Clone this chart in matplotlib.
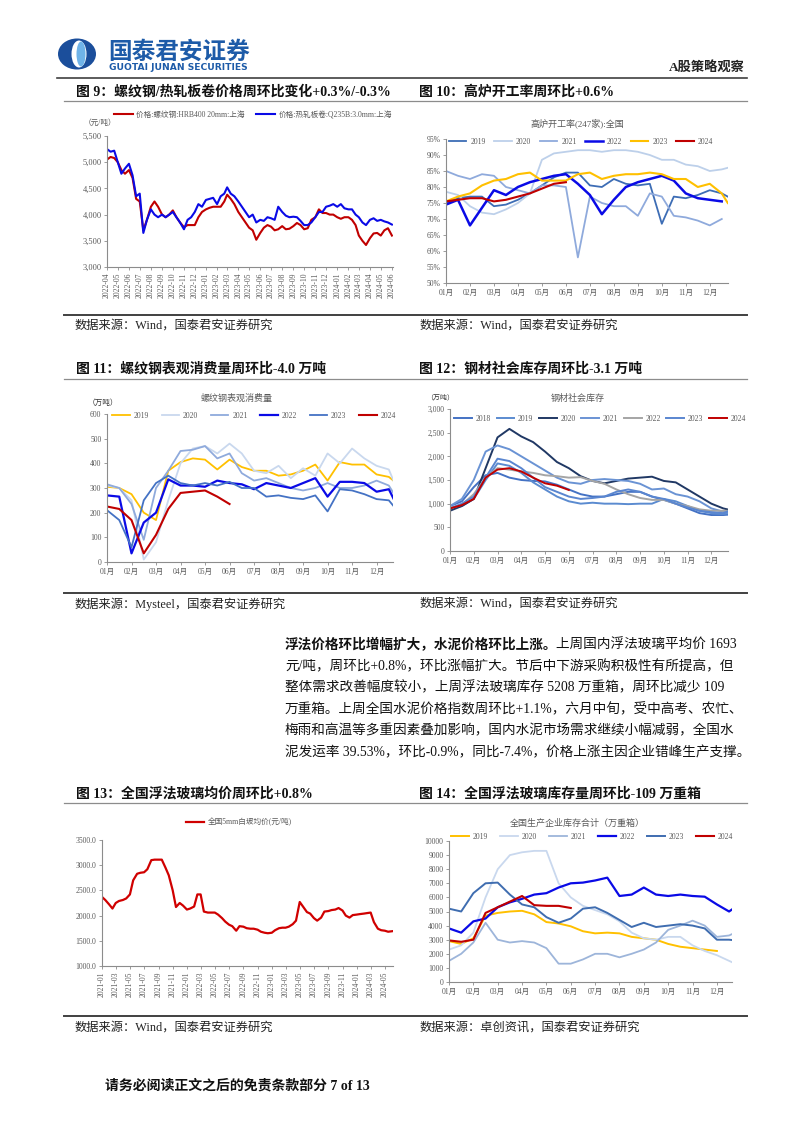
import numpy as np
import pandas as pd
import matplotlib
matplotlib.use('Agg')
import matplotlib.pyplot as plt
from matplotlib.lines import Line2D
from matplotlib.patches import Ellipse
from matplotlib.ticker import FuncFormatter, FixedLocator

# ---------------- data ----------------
# Fig 9: rebar / hot-rolled coil price (yuan/t), points on the 1st, 11th, 21st of each month
rebar_price = [5050, 5100, 5080, 5000, 4850, 4780, 4850, 4700, 4300, 4250, 3700, 3900,
               4150, 4250, 4150, 4000, 3950, 4000, 4080, 3950, 3850, 3760, 3800, 3800,
               3800, 3950, 4050, 4100, 4130, 4150, 4150, 4150, 4250, 4380, 4300, 4200,
               4050, 3950, 3850, 3750, 3700, 3520, 3650, 3750, 3800, 3770, 3700, 3720,
               3780, 3720, 3730, 3780, 3840, 3800, 3720, 3740, 3900, 3950, 4100, 4030,
               4030, 4000, 4000, 3950, 3920, 3950, 3950, 3900, 3800, 3600, 3500, 3420,
               3550, 3640, 3650, 3600, 3700, 3740, 3600]
hrc_price = [5250, 5200, 5220, 5000, 4780, 4880, 4970, 4750, 4350, 4400, 3650, 3900,
             4100, 4000, 3950, 4000, 3950, 4000, 4050, 3950, 3850, 3720, 3900, 3950,
             4050, 4200, 4150, 4280, 4300, 4320, 4200, 4350, 4400, 4520, 4400, 4350,
             4250, 4150, 4050, 3950, 4000, 3850, 3900, 3880, 3950, 3930, 3900, 4150,
             4050, 3980, 3950, 3960, 3950, 3880, 3800, 3800, 3850, 3950, 4050, 4050,
             4150, 4170, 4200, 4150, 4200, 4120, 4100, 4100, 4000, 3950, 3850, 3800,
             3900, 3930, 3880, 3900, 3870, 3850, 3810]
price_labels = ['价格:螺纹钢:HRB400 20mm:上海', '价格:热轧板卷:Q235B:3.0mm:上海']

# Fig 10: blast furnace utilization (%), half-month points
bf_years = ['2019', '2020', '2021', '2022', '2023', '2024']
bf_2019 = [75, 76.5, 77, 77, 74, 74.5, 76, 78, 80.5, 83, 84.5, 84.5, 80.5, 80, 82.5, 81,
           80.5, 81, 68.5, 77, 76.5, 77.5, 79, 78, 77]
bf_2020 = [78.5, 77.5, 74, 72, 71.5, 73, 75, 78, 88.5, 90.5, 91, 91.5, 91.5, 91, 91.5, 91.5,
           91, 90, 88.5, 88.5, 87, 86.5, 85, 85.5, 86]
bf_2021 = [85, 83.5, 82.5, 84, 83.5, 80, 79, 78, 80.5, 80.5, 80, 58, 77, 75, 74, 74,
           71, 78, 77, 71, 70.5, 69.5, 68, 70]
bf_2022 = [74.5, 76, 68, 73.5, 79, 77.5, 80, 81.5, 82.5, 83.5, 84, 81, 77.5, 71.5, 76, 80,
           81.5, 82.5, 83.5, 82, 78, 76.5, 76, 75.5]
bf_2023 = [75.5, 77, 78, 80.5, 82, 82.5, 84, 84.5, 82, 82, 82, 84, 84.5, 82.5, 83.5, 84,
           84, 84.5, 84, 82.5, 82.5, 80, 81, 78, 75]
bf_2024 = [75.5, 76, 76.5, 76.5, 75.5, 76, 77, 78, 79.5, 81, 81.5]

# Fig 11: rebar apparent consumption (10k t), half-month points
rc_years = ['2019', '2020', '2021', '2022', '2023', '2024']
rc_2019 = [305, 300, 275, 200, 170, 370, 405, 420, 415, 375, 415, 385, 370, 370, 350, 355,
           370, 395, 330, 405, 395, 395, 355, 345, 325]
rc_2020 = [310, 300, 250, 10, 80, 250, 400, 460, 470, 440, 480, 440, 370, 360, 390, 340,
           380, 350, 440, 400, 460, 420, 390, 375, 315]
rc_2021 = [315, 300, 235, 90, 300, 370, 450, 455, 470, 420, 440, 360, 330, 340, 320, 300,
           290, 300, 320, 300, 300, 310, 330, 310, 270]
rc_2022 = [270, 265, 35, 160, 200, 335, 310, 310, 305, 330, 320, 315, 295, 320, 310, 300,
           320, 340, 265, 325, 325, 320, 285, 295, 245]
rc_2023 = [210, 170, 60, 250, 320, 350, 320, 310, 320, 310, 325, 300, 300, 265, 270, 260,
           255, 270, 205, 295, 290, 275, 255, 250, 220]
rc_2024 = [225, 215, 170, 35, 110, 215, 280, 285, 290, 265, 235]

# Fig 12: steel social inventory (10k t), half-month points
si_years = ['2018', '2019', '2020', '2021', '2022', '2023', '2024']
si_2018 = [950, 1050, 1350, 1600, 1650, 1550, 1500, 1480, 1470, 1400, 1300, 1200, 1150, 1150,
           1200, 1250, 1250, 1150, 1080, 1000, 900, 800, 760, 760, 770]
si_2019 = [900, 950, 1100, 1500, 1850, 1800, 1650, 1450, 1300, 1150, 1050, 1000, 1020, 1000,
           1000, 990, 1000, 1000, 1100, 1050, 950, 850, 800, 780, 800]
si_2020 = [850, 950, 1100, 1750, 2400, 2580, 2420, 2300, 2100, 1880, 1750, 1580, 1480, 1430,
           1480, 1530, 1550, 1570, 1480, 1450, 1300, 1150, 1000, 900, 870]
si_2021 = [950, 1100, 1500, 2100, 2230, 2150, 2000, 1850, 1700, 1550, 1450, 1420, 1500, 1520,
           1500, 1480, 1420, 1300, 1320, 1200, 1150, 1050, 900, 830, 800]
si_2022 = [900, 980, 1200, 1550, 1750, 1720, 1680, 1650, 1600, 1580, 1550, 1560, 1480, 1420,
           1300, 1200, 1120, 1080, 1080, 1000, 950, 880, 850, 850, 850]
si_2023 = [900, 1000, 1150, 1550, 1950, 1900, 1750, 1550, 1350, 1250, 1150, 1100, 1120, 1150,
           1250, 1300, 1250, 1150, 1100, 1000, 920, 850, 820, 800, 850]
si_2024 = [900, 970, 1100, 1550, 1720, 1750, 1680, 1550, 1430, 1380, 1290]

# Fig 13: float glass average price (yuan/t), semi-monthly from 2021-01
glass_price = [2370, 2310, 2220, 2140, 2250, 2290, 2310, 2340, 2420, 2700, 2830, 2850,
               2860, 2920, 3100, 3110, 3110, 3110, 2950, 2800, 2500, 2170, 2250, 2200,
               2120, 2140, 2180, 2420, 2420, 2080, 2060, 2060, 2060, 2020, 1950, 1880,
               1820, 1790, 1700, 1790, 1780, 1750, 1740, 1740, 1720, 1680, 1660, 1650,
               1660, 1710, 1750, 1760, 1760, 1780, 1830, 1900, 2270, 2180, 2070, 2040,
               1950, 1900, 1960, 2080, 2090, 2110, 2120, 2150, 2100, 2000, 1960, 2010,
               2020, 2030, 2040, 2050, 2060, 1870, 1740, 1710, 1700, 1680, 1690]
glass_label = '全国5mm白玻均价(元/吨)'

# Fig 14: float glass inventory (10k weight boxes), half-month points
gi_years = ['2019', '2020', '2021', '2022', '2023', '2024']
gi_2019 = [2900, 2700, 3100, 4700, 4900, 5000, 5050, 4800, 4250, 4150, 3950, 3600, 3450,
           3500, 3450, 3200, 3100, 3000, 2700, 2500, 2400, 2300, 2200]
gi_2020 = [2300, 2600, 3500, 6000, 8000, 9000, 9200, 9300, 9300, 7000, 6000, 5400, 5100,
           4800, 4300, 3500, 3100, 3000, 3200, 3200, 2600, 2200, 1900, 1500, 1300]
gi_2021 = [1500, 2000, 2800, 4200, 3000, 2800, 2900, 2800, 2400, 1300, 1300, 1600, 2000,
           2000, 1750, 2000, 2300, 2800, 3700, 4000, 4350, 4000, 3200, 3300, 3500]
gi_2022 = [3800, 3500, 4300, 4500, 5300, 5650, 5900, 6200, 6300, 6700, 7000, 7050, 7200,
           7400, 6100, 6200, 6700, 6200, 6100, 6200, 6100, 6050, 5500, 5000, 5300]
gi_2023 = [5200, 5000, 6300, 7000, 7050, 6200, 5500, 5300, 4600, 4200, 4500, 5200, 5300,
           4900, 4400, 3900, 4200, 3900, 4000, 4100, 4000, 3800, 3000, 3000, 2950]
gi_2024 = [2950, 2850, 3000, 4900, 5300, 5700, 6100, 5450, 5400, 5400, 5250]

month_labels = ['01月', '02月', '03月', '04月', '05月', '06月',
                '07月', '08月', '09月', '10月', '11月', '12月']

# ---------------- setup ----------------
W, H = 802, 1133
SERIF = ['Liberation Serif', 'Noto Sans CJK SC']
SANS = ['Noto Sans CJK SC', 'DejaVu Sans']
plt.rcParams['font.family'] = SERIF
plt.rcParams['axes.unicode_minus'] = False
fig = plt.figure(figsize=(W / 100, H / 100), dpi=100)

TICKC = '#595959'
SPINEC = '#8C8C8C'


def axrect(l, t, r, b):
    return fig.add_axes([l / W, 1 - b / H, (r - l) / W, (b - t) / H])


def ftext(x, y, s, **kw):
    kw.setdefault('va', 'center')
    return fig.text(x / W, 1 - y / H, s, **kw)


def hline(x0, x1, y, color, lw):
    fig.add_artist(Line2D([x0 / W, x1 / W], [1 - y / H, 1 - y / H], color=color, lw=lw,
                          transform=fig.transFigure))


def style(ax, lsize=5.5):
    for s in ['top', 'right']:
        ax.spines[s].set_visible(False)
    for s in ['left', 'bottom']:
        ax.spines[s].set_color(SPINEC)
        ax.spines[s].set_linewidth(0.8)
    ax.tick_params(labelsize=lsize, labelcolor=TICKC, color=SPINEC, length=2,
                   width=0.6, direction='out', pad=2)
    ax.set_facecolor('none')


def grid_months(n):
    g = np.append(np.arange(0, 12, 0.5), 11.75)
    return g[:n]


def month_axis(ax, xmax, size=5.5):
    ax.set_xlim(0, xmax)
    ax.xaxis.set_major_locator(FixedLocator(list(range(12))))
    ax.set_xticklabels(month_labels, fontsize=size, family=SERIF)


def legend(handles, labels, cx, cy, ncol, size=5.5, hl=2.2, cs=1.6):
    fig.legend(handles, labels, loc='center', bbox_to_anchor=(cx / W, 1 - cy / H), ncol=ncol,
               frameon=False, fontsize=size, handlelength=hl, handletextpad=0.5,
               columnspacing=cs, labelcolor=TICKC, borderaxespad=0, borderpad=0)


# ---------------- header ----------------
fig.add_artist(Ellipse((77 / W, 1 - 54 / H), 38 / W, 31 / H, transform=fig.transFigure,
                       color='#1B4E9B', lw=0))
fig.add_artist(Ellipse((79 / W, 1 - 54 / H), 15 / W, 27 / H, transform=fig.transFigure,
                       color='white', lw=0))
fig.add_artist(Ellipse((81 / W, 1 - 54 / H), 9 / W, 25 / H, transform=fig.transFigure,
                       color='#6FB3E8', lw=0))
ftext(108, 52, '国泰君安证券', fontsize=17, fontweight='bold', color='#1D5BA8', family=SANS)
ftext(109, 67, 'GUOTAI JUNAN SECURITIES', fontsize=6.6, fontweight='bold', color='#1D5BA8',
      family=['DejaVu Sans'])
ftext(745, 68, 'A股策略观察', fontsize=9.5, fontweight='bold', color='#222222', ha='right')
hline(57, 747, 77.5, '#404040', 1.2)

# ---------------- section titles, lines, sources ----------------
TITLE_KW = dict(fontsize=10, fontweight='bold', color='#111111', family=SERIF)
SRC_KW = dict(fontsize=8.8, color='#222222', family=SERIF)

ftext(76, 92, '图 9：螺纹钢/热轧板卷价格周环比变化+0.3%/-0.3%', **TITLE_KW)
ftext(419, 92, '图 10：高炉开工率周环比+0.6%', **TITLE_KW)
hline(64, 747, 101, '#8C8C8C', 0.9)
hline(64, 747, 315, '#404040', 1.4)
ftext(75, 326, '数据来源：Wind，国泰君安证券研究', **SRC_KW)
ftext(420, 326, '数据来源：Wind，国泰君安证券研究', **SRC_KW)

ftext(76, 369, '图 11：螺纹钢表观消费量周环比-4.0 万吨', **TITLE_KW)
ftext(419, 369, '图 12：钢材社会库存周环比-3.1 万吨', **TITLE_KW)
hline(64, 747, 378.5, '#8C8C8C', 0.9)
hline(64, 747, 593, '#404040', 1.4)
ftext(75, 604, '数据来源：Mysteel，国泰君安证券研究', **SRC_KW)
ftext(420, 604, '数据来源：Wind，国泰君安证券研究', **SRC_KW)

ftext(76, 794, '图 13：全国浮法玻璃均价周环比+0.8%', **TITLE_KW)
ftext(419, 794, '图 14：全国浮法玻璃库存量周环比-109 万重箱', **TITLE_KW)
hline(64, 747, 803, '#8C8C8C', 0.9)
hline(64, 747, 1016, '#404040', 1.4)
ftext(75, 1028, '数据来源：Wind，国泰君安证券研究', **SRC_KW)
ftext(420, 1028, '数据来源：卓创资讯，国泰君安证券研究', **SRC_KW)

# ---------------- paragraph ----------------
PARA_KW = dict(fontsize=9.8, color='#111111', family=SERIF)
bold_part = ftext(285, 645, '浮法价格环比增幅扩大，水泥价格环比上涨。', fontweight='bold', **PARA_KW)
fig.canvas.draw()
bb = bold_part.get_window_extent(fig.canvas.get_renderer())
ftext(bb.x1 - 2, 645, '上周国内浮法玻璃平均价 1693', **PARA_KW)
para_lines = ['元/吨，周环比+0.8%，环比涨幅扩大。节后中下游采购积极性有所提高，但',
              '整体需求改善幅度较小，上周浮法玻璃库存 5208 万重箱，周环比减少 109',
              '万重箱。上周全国水泥价格指数周环比+1.1%，六月中旬，受中高考、农忙、',
              '梅雨和高温等多重因素叠加影响，国内水泥市场需求继续小幅减弱，全国水',
              '泥发运率 39.53%，环比-0.9%，同比-7.4%，价格上涨主因企业错峰生产支撑。']
for i, s in enumerate(para_lines):
    ftext(285, 645 + 21.5 * (i + 1), s, **PARA_KW)

ftext(105, 1086, '请务必阅读正文之后的免责条款部分 7 of 13', fontsize=10,
      fontweight='bold', color='#111111', family=SERIF)

# ---------------- Fig 9 ----------------
ax9 = axrect(107, 136, 393, 267)
style(ax9, 6)
month_starts = pd.date_range('2022-04-01', '2024-06-01', freq='MS')
d9 = [m + pd.Timedelta(days=d) for m in month_starts[:-1] for d in (0, 10, 20)] + [month_starts[-1]]
ax9.plot(d9, rebar_price, color='#C00000', lw=1.5)
ax9.plot(d9, hrc_price, color='#0A0AE6', lw=1.5)
ax9.set_ylim(3000, 5500)
ax9.set_yticks(range(3000, 5501, 500))
ax9.yaxis.set_major_formatter(FuncFormatter(lambda v, p: f'{v:,.0f}'))
ax9.set_xlim(pd.Timestamp('2022-04-01'), pd.Timestamp('2024-06-04'))
ax9.set_xticks(month_starts)
ax9.set_xticklabels([m.strftime('%Y-%m') for m in month_starts], rotation=90, fontsize=5.5)
legend([Line2D([], [], color='#C00000', lw=1.5), Line2D([], [], color='#0A0AE6', lw=1.5)],
       price_labels, 253, 115, 2, size=5.5, hl=2.4, cs=1.5)
ftext(84, 123, '（元/吨）', fontsize=5.5, color=TICKC)

# ---------------- Fig 10 ----------------
ax10 = axrect(446, 139, 728, 283)
style(ax10, 5.5)
bf_colors = ['#3D6DB5', '#BDD0EA', '#8FAADC', '#0A0AE6', '#FFC000', '#C00000']
bf_widths = [1.3, 1.3, 1.3, 1.8, 1.5, 1.5]
for yr, vals, c, lw in zip(bf_years, [bf_2019, bf_2020, bf_2021, bf_2022, bf_2023, bf_2024],
                           bf_colors, bf_widths):
    ax10.plot(grid_months(len(vals)), vals, color=c, lw=lw, label=yr)
ax10.set_ylim(50, 95)
ax10.set_yticks(range(50, 96, 5))
ax10.yaxis.set_major_formatter(FuncFormatter(lambda v, p: f'{v:.0f}%'))
month_axis(ax10, 11.76)
legend(*ax10.get_legend_handles_labels(), 581, 142, 6, size=5.5, hl=2.3, cs=1.15)
ftext(577, 123, '高炉开工率(247家):全国', fontsize=6.5, color=TICKC, ha='center')

# ---------------- Fig 11 ----------------
ax11 = axrect(107, 414, 393, 562)
style(ax11, 5.5)
rc_colors = ['#FFC000', '#C9D8EE', '#8FAADC', '#0A0AE6', '#4472C4', '#C00000']
rc_widths = [1.3, 1.3, 1.3, 1.6, 1.3, 1.5]
for yr, vals, c, lw in zip(rc_years, [rc_2019, rc_2020, rc_2021, rc_2022, rc_2023, rc_2024],
                           rc_colors, rc_widths):
    ax11.plot(grid_months(len(vals)), vals, color=c, lw=lw, label=yr)
ax11.set_ylim(0, 600)
ax11.set_yticks(range(0, 601, 100))
month_axis(ax11, 11.67)
legend(*ax11.get_legend_handles_labels(), 254, 416, 6, size=5.5, hl=2.3, cs=1.65)
ftext(237, 398, '螺纹钢表观消费量', fontsize=6.5, color=TICKC, ha='center')
ftext(88, 403, '（万吨）', fontsize=5.5, color='#333333')

# ---------------- Fig 12 ----------------
ax12 = axrect(450, 409, 728, 551)
style(ax12, 5.5)
si_colors = ['#4472C4', '#5B8BD0', '#203864', '#6A93D4', '#A5A5A5', '#5A86D0', '#C00000']
for yr, vals, c in zip(si_years, [si_2018, si_2019, si_2020, si_2021, si_2022, si_2023, si_2024],
                       si_colors):
    ax12.plot(grid_months(len(vals)), vals, color=c, lw=1.4, label=yr)
ax12.set_ylim(0, 3000)
ax12.set_yticks(range(0, 3001, 500))
ax12.yaxis.set_major_formatter(FuncFormatter(lambda v, p: f'{v:,.0f}'))
month_axis(ax12, 11.7)
legend(*ax12.get_legend_handles_labels(), 600, 419, 7, size=5.5, hl=2.3, cs=0.75)
ftext(578, 398, '钢材社会库存', fontsize=6.5, color=TICKC, ha='center')
ftext(426, 397, '（万吨）', fontsize=5, color='#333333')

# ---------------- Fig 13 ----------------
ax13 = axrect(102, 840, 393, 966)
style(ax13, 5.5)
d13 = pd.date_range('2021-01-01', periods=len(glass_price), freq='SMS')
ax13.plot(d13, glass_price, color='#D00000', lw=1.6, label=glass_label)
ax13.set_ylim(1000, 3500)
ax13.set_yticks(range(1000, 3501, 500))
ax13.yaxis.set_major_formatter(FuncFormatter(lambda v, p: f'{v:.1f}'))
ax13.set_xlim(pd.Timestamp('2021-01-01'), pd.Timestamp('2024-06-05'))
t13 = pd.date_range('2021-01-01', '2024-05-01', freq='2MS')
ax13.set_xticks(t13)
ax13.set_xticklabels([t.strftime('%Y-%m') for t in t13], rotation=90, fontsize=5.5)
legend(*ax13.get_legend_handles_labels(), 239, 822, 1, size=5.5, hl=2.3)

# ---------------- Fig 14 ----------------
ax14 = axrect(449, 841, 732, 982)
style(ax14, 5.5)
gi_colors = ['#FFC000', '#C9D8EE', '#9DB5DA', '#0A0AE6', '#3F6DB0', '#C00000']
gi_widths = [1.4, 1.3, 1.3, 1.6, 1.4, 1.5]
for yr, vals, c, lw in zip(gi_years, [gi_2019, gi_2020, gi_2021, gi_2022, gi_2023, gi_2024],
                           gi_colors, gi_widths):
    ax14.plot(grid_months(len(vals)), vals, color=c, lw=lw, label=yr)
ax14.set_ylim(0, 10000)
ax14.set_yticks(range(0, 10001, 1000))
month_axis(ax14, 11.62)
legend(*ax14.get_legend_handles_labels(), 592, 837, 6, size=5.5, hl=2.3, cs=1.6)
ftext(577, 823, '全国生产企业库存合计（万重箱）', fontsize=6.5, color=TICKC, ha='center')

fig.savefig('out.png', dpi=100)
